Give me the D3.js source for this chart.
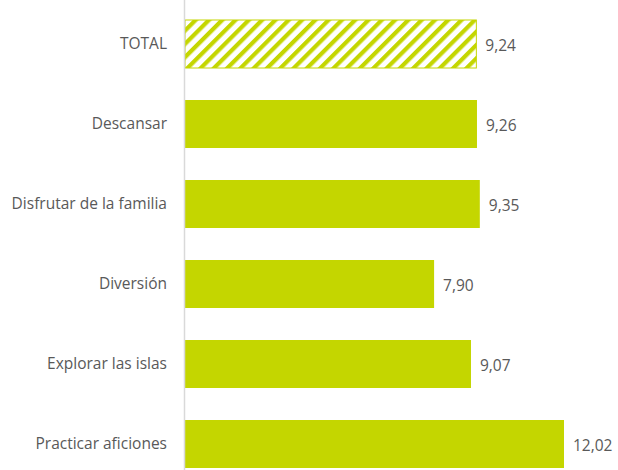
<!DOCTYPE html>
<html>
<head>
<meta charset="utf-8">
<script src="https://cdn.jsdelivr.net/npm/d3@7"></script>
<style>
  body { margin: 0; background: #fff; }
  text { font-family: "Open Sans", "Liberation Sans", sans-serif; fill: #595959; }
</style>
</head>
<body>
<div id="chart"></div>
<script>
var categories = ["TOTAL", "Descansar", "Disfrutar de la familia", "Diversión", "Explorar las islas", "Practicar aficiones"];
var values = [9.24, 9.26, 9.35, 7.90, 9.07, 12.02];
var hatched = ["TOTAL"];

var width = 618, height = 470;
var green = "#c4d600";

var svg = d3.select("#chart").append("svg")
    .attr("width", width)
    .attr("height", height);

// diagonal hatch for the total bar
var defs = svg.append("defs");
var pat = defs.append("pattern")
    .attr("id", "hatch")
    .attr("patternUnits", "userSpaceOnUse")
    .attr("width", 9.4)
    .attr("height", 9.4)
    .attr("patternTransform", "rotate(45)");
pat.append("rect").attr("width", 9.4).attr("height", 9.4).attr("fill", "#fff");
pat.append("rect").attr("width", 4.2).attr("height", 9.4).attr("fill", green);

var x = d3.scaleLinear()
    .domain([0, 12.02])
    .range([185, 564]);

var y = d3.scaleBand()
    .domain(categories)
    .range([4, 484])
    .paddingInner(0.4)
    .paddingOuter(0.2);

var data = categories.map(function(c, i) { return {cat: c, val: values[i]}; });

svg.append("g").selectAll("rect")
    .data(data)
    .enter()
    .append("rect")
    .attr("x", x(0))
    .attr("y", function(d) { return y(d.cat); })
    .attr("width", function(d) { return x(d.val) - x(0); })
    .attr("height", y.bandwidth())
    .attr("fill", function(d) { return hatched.indexOf(d.cat) >= 0 ? "url(#hatch)" : green; })
    .attr("stroke", function(d) { return hatched.indexOf(d.cat) >= 0 ? green : "none"; })
    .attr("stroke-width", 1);

// vertical axis line
svg.append("line")
    .attr("x1", x(0) - 0.5).attr("x2", x(0) - 0.5)
    .attr("y1", 0).attr("y2", height)
    .attr("stroke", "#d9d9d9")
    .attr("stroke-width", 1.5);

svg.append("g").selectAll("text")
    .data(data)
    .enter()
    .append("text")
    .attr("x", 167)
    .attr("y", function(d) { return y(d.cat) + y.bandwidth() / 2; })
    .attr("dy", "0.35em")
    .attr("text-anchor", "end")
    .style("font-size", "15.5px")
    .text(function(d) { return d.cat; });

svg.append("g").selectAll("text")
    .data(data)
    .enter()
    .append("text")
    .attr("x", function(d) { return x(d.val) + 9; })
    .attr("y", function(d) { return y(d.cat) + y.bandwidth() / 2 + 2; })
    .attr("dy", "0.35em")
    .style("font-size", "15.5px")
    .text(function(d) { return d3.format(".2f")(d.val).replace(".", ","); });
</script>
</body>
</html>
